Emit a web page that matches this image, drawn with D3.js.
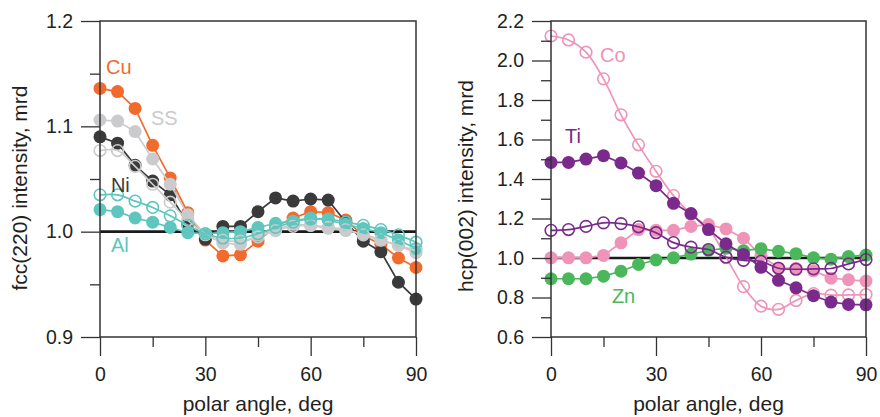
<!DOCTYPE html>
<html>
<head>
<meta charset="utf-8">
<script src="https://cdn.jsdelivr.net/npm/d3@7"></script>
<style>
  html, body { margin: 0; padding: 0; background: #fff; }
  svg { display: block; font-family: "Liberation Sans", Arial, Helvetica, sans-serif; }
</style>
</head>
<body>
<svg id="chart" width="880" height="417"></svg>
<script>
// Polar angle sampling (deg)
const angles = [0,5,10,15,20,25,30,35,40,45,50,55,60,65,70,75,80,85,90];

// fcc(220) texture intensities, mrd
const cu     = [1.136,1.133,1.117,1.082,1.051,1.018,0.992,0.977,0.978,0.991,1.005,1.013,1.019,1.018,1.011,0.996,0.988,0.975,0.966];
const ni     = [1.090,1.084,1.063,1.048,1.035,1.007,0.993,1.005,1.005,1.019,1.032,1.029,1.031,1.030,1.009,0.991,0.981,0.952,0.936];
const ss     = [1.106,1.105,1.095,1.069,1.045,1.016,0.997,0.989,0.988,0.997,1.002,1.007,1.006,1.003,1.001,0.998,0.992,0.987,0.980];
const ssOpen = [1.077,1.077,1.062,1.045,1.028,1.011,0.998,0.992,0.991,0.995,1.001,1.005,1.006,1.004,1.002,0.997,0.992,0.987,0.982];
const al     = [1.021,1.019,1.013,1.009,1.004,0.999,0.998,0.999,1.000,1.004,1.008,1.010,1.013,1.011,1.007,1.003,0.999,0.992,0.984];
const alOpen = [1.035,1.035,1.029,1.023,1.015,1.006,0.998,0.994,0.994,0.998,1.004,1.009,1.012,1.012,1.009,1.006,1.002,0.997,0.990];

// hcp(002) texture intensities, mrd
const coOpen = [2.124,2.104,2.042,1.907,1.725,1.573,1.439,1.316,1.222,1.150,1.005,0.855,0.756,0.740,0.785,0.820,0.812,0.813,0.815];
const coFill = [1.001,1.001,1.001,1.013,1.077,1.144,1.140,1.140,1.160,1.169,1.147,1.100,1.014,0.950,0.948,0.935,0.898,0.890,0.883];
const ti     = [1.484,1.484,1.501,1.518,1.481,1.430,1.366,1.277,1.225,1.144,1.072,1.018,0.953,0.887,0.849,0.809,0.777,0.765,0.763];
const tiOpen = [1.140,1.144,1.160,1.178,1.174,1.158,1.128,1.078,1.055,1.043,1.004,0.988,0.983,0.948,0.943,0.945,0.947,0.970,0.992];
const zn     = [0.895,0.895,0.895,0.908,0.933,0.967,0.990,1.001,1.020,1.038,1.050,1.037,1.047,1.034,1.022,1.001,0.994,1.007,1.015];

// Axis ticks
const xMajor = [0,30,60,90];
const xMinor = [15,45,75];
const yMajorL = [0.9,1.0,1.1,1.2];
const yMinorL = [0.95,1.05,1.15];
const yMajorR = [0.6,0.8,1.0,1.2,1.4,1.6,1.8,2.0,2.2];
const yMinorR = [0.7,0.9,1.1,1.3,1.5,1.7,1.9,2.1];

const svg = d3.select("#chart");
const ink = "#231f20";

function panel(opts) {
  const x = d3.scaleLinear().domain([0, 90]).range([opts.left, opts.right]);
  const y = d3.scaleLinear().domain(opts.yDomain).range([337, 21]);
  const g = svg.append("g");

  // reference line at unity
  g.append("line")
    .attr("x1", x(0)).attr("x2", x(90))
    .attr("y1", y(1)).attr("y2", y(1))
    .attr("stroke", "#1a1a1a").attr("stroke-width", 2.6);

  // data series
  opts.series.forEach(s => {
    const pts = angles.map((a, i) => [a, s.values[i]]);
    const line = d3.line()
      .x(d => x(d[0])).y(d => y(d[1]))
      .curve(s.open ? d3.curveCatmullRom.alpha(0.5) : d3.curveLinear);
    g.append("path").datum(pts)
      .attr("d", line)
      .attr("fill", "none")
      .attr("stroke", s.color)
      .attr("stroke-width", 1.7);
    g.selectAll(null).data(pts).enter().append("circle")
      .attr("cx", d => x(d[0])).attr("cy", d => y(d[1]))
      .attr("r", s.open ? 5.8 : 6.5)
      .attr("fill", s.open ? "none" : s.color)
      .attr("stroke", s.color)
      .attr("stroke-width", s.open ? 1.6 : 0);
  });

  // frame
  g.append("rect")
    .attr("x", x(0)).attr("y", y.range()[1])
    .attr("width", x(90) - x(0)).attr("height", y.range()[0] - y.range()[1])
    .attr("fill", "none").attr("stroke", "#333").attr("stroke-width", 1.5);

  // axes
  const tickFs = "19.5px";
  const titleFs = "21px";
  g.append("g").attr("transform", `translate(0,${y.range()[0]})`)
    .call(d3.axisBottom(x).tickValues(xMajor).tickSize(19).tickSizeOuter(0).tickPadding(11).tickFormat(d3.format("d")));
  g.append("g").attr("transform", `translate(0,${y.range()[0]})`)
    .call(d3.axisBottom(x).tickValues(xMinor).tickSize(10).tickSizeOuter(0).tickFormat(""));
  g.append("g").attr("transform", `translate(${x(0)},0)`)
    .call(d3.axisLeft(y).tickValues(opts.yMajor).tickSize(19).tickSizeOuter(0).tickPadding(8).tickFormat(d3.format(".1f")));
  g.append("g").attr("transform", `translate(${x(0)},0)`)
    .call(d3.axisLeft(y).tickValues(opts.yMinor).tickSize(10).tickSizeOuter(0).tickFormat(""));
  g.selectAll(".domain").remove();
  g.selectAll(".tick line").attr("stroke", "#333").attr("stroke-width", 1.3);
  g.selectAll(".tick text").attr("font-size", tickFs).attr("fill", ink)
    .attr("font-family", "'Liberation Sans', Arial, sans-serif");

  // axis titles
  g.append("text")
    .attr("x", (x(0) + x(90)) / 2).attr("y", 411)
    .attr("text-anchor", "middle").attr("font-size", titleFs).attr("fill", ink)
    .text("polar angle, deg");
  g.append("text")
    .attr("transform", `translate(${opts.titleX},${opts.titleY}) rotate(-90)`)
    .attr("text-anchor", "middle").attr("font-size", titleFs).attr("fill", ink)
    .text(opts.yTitle);

  // series labels
  opts.labels.forEach(l => {
    g.append("text")
      .attr("x", x(l.a)).attr("y", y(l.v))
      .attr("font-size", "20px").attr("fill", l.color)
      .text(l.text);
  });
}

const C = {
  cu: "#f26b2d", ss: "#cbcbcd", ni: "#3a3a3a", al: "#5ec6be",
  co: "#ef93b8", ti: "#7a2a8c", zn: "#4bb75b"
};

panel({
  left: 100, right: 416, yDomain: [0.9, 1.2],
  yMajor: yMajorL, yMinor: yMinorL,
  yTitle: "fcc(220) intensity, mrd", titleX: 27, titleY: 188,
  series: [
    { values: cu, color: C.cu },
    { values: ni, color: C.ni },
    { values: ss, color: C.ss },
    { values: al, color: C.al },
    { values: ssOpen, color: C.ss, open: true },
    { values: alOpen, color: C.al, open: true }
  ],
  labels: [
    { text: "Cu", a: 1.7, v: 1.1498, color: C.cu },
    { text: "SS", a: 14.5, v: 1.101, color: C.ss },
    { text: "Ni", a: 3.1, v: 1.038, color: C.ni },
    { text: "Al", a: 3.1, v: 0.981, color: C.al }
  ]
});

panel({
  left: 551, right: 866, yDomain: [0.6, 2.2],
  yMajor: yMajorR, yMinor: yMinorR,
  yTitle: "hcp(002) intensity, mrd", titleX: 473, titleY: 186,
  series: [
    { values: coFill, color: C.co },
    { values: coOpen, color: C.co, open: true },
    { values: zn, color: C.zn },
    { values: ti, color: C.ti },
    { values: tiOpen, color: C.ti, open: true }
  ],
  labels: [
    { text: "Co", a: 14, v: 1.993, color: C.co },
    { text: "Ti", a: 4, v: 1.583, color: C.ti },
    { text: "Zn", a: 17.4, v: 0.770, color: C.zn }
  ]
});
</script>
</body>
</html>
